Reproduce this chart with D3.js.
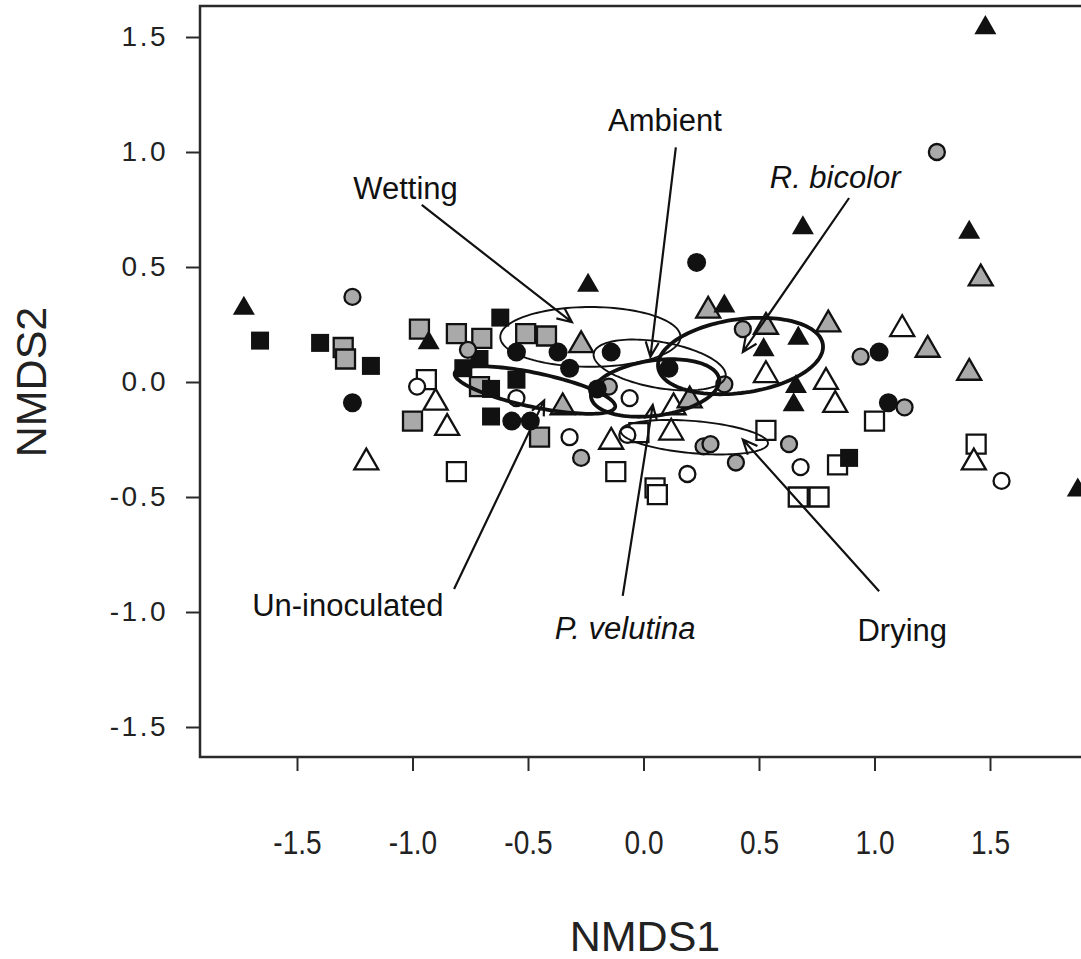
<!DOCTYPE html>
<html>
<head>
<meta charset="utf-8">
<script src="https://cdn.jsdelivr.net/npm/d3@7"></script>
<style>
  html, body { margin: 0; padding: 0; background: #fff; overflow: hidden; }
  svg { display: block; font-family: "Liberation Sans", Arial, sans-serif; }
</style>
</head>
<body>
<svg id="chart" width="1081" height="959"></svg>
<script>
// NMDS site scores [NMDS1, NMDS2].
// Marker shape = inoculum (square: un-inoculated, circle: P. velutina, triangle: R. bicolor)
// Marker fill  = moisture regime (black: ambient, grey: wetting, open: drying)
const unAmbient = [[-1.66,0.18],[-1.40,0.17],[-1.18,0.07],[-0.62,0.28],[-0.71,0.10],[-0.78,0.06],[-0.55,0.01],[-0.66,-0.03],[-0.66,-0.15],[0.89,-0.33]];
const unWetting = [[-1.30,0.15],[-1.29,0.10],[-0.97,0.23],[-0.81,0.21],[-0.70,0.19],[-0.51,0.21],[-0.42,0.20],[-1.00,-0.17],[-0.45,-0.24],[-0.71,-0.02]];
const unDrying  = [[-0.94,0.01],[-0.81,-0.39],[-0.12,-0.39],[-0.02,-0.22],[0.05,-0.46],[0.06,-0.49],[0.53,-0.21],[0.84,-0.36],[0.67,-0.50],[0.76,-0.50],[1.00,-0.17],[1.44,-0.27]];

const pvAmbient = [[-1.26,-0.09],[-0.55,0.13],[-0.37,0.13],[-0.14,0.13],[-0.32,0.06],[-0.20,-0.03],[-0.57,-0.17],[-0.49,-0.17],[0.11,0.06],[0.23,0.52],[1.02,0.13],[1.06,-0.09]];
const pvWetting = [[-1.26,0.37],[-0.76,0.14],[-0.15,-0.02],[-0.27,-0.33],[0.43,0.23],[0.35,-0.01],[0.26,-0.28],[0.29,-0.27],[0.40,-0.35],[0.63,-0.27],[0.94,0.11],[1.13,-0.11],[1.27,1.00]];
const pvDrying  = [[-0.98,-0.02],[-0.55,-0.07],[-0.32,-0.24],[-0.06,-0.07],[-0.07,-0.23],[0.19,-0.40],[0.68,-0.37],[1.55,-0.43]];

const rbAmbient = [[-1.73,0.32],[-0.93,0.17],[-0.24,0.42],[1.48,1.54],[0.69,0.67],[1.41,0.65],[0.35,0.33],[0.52,0.14],[0.67,0.19],[0.66,-0.02],[0.65,-0.10],[1.88,-0.47]];
const rbWetting = [[-0.27,0.16],[-0.35,-0.11],[0.28,0.31],[0.53,0.24],[0.80,0.25],[0.20,-0.08],[1.46,0.45],[1.23,0.14],[1.41,0.04]];
const rbDrying  = [[-1.20,-0.35],[-0.90,-0.09],[-0.85,-0.20],[-0.14,-0.26],[0.12,-0.22],[0.13,-0.11],[0.53,0.03],[0.79,0.00],[0.83,-0.10],[1.12,0.23],[1.43,-0.35]];

// Group ellipses: centre, semi-axes (NMDS units) and rotation (degrees)
const ellipseNames  = ["Un-inoculated", "P. velutina", "R. bicolor", "Wetting", "Ambient", "Drying"];
const ellipseCentre = [[-0.47,-0.035],[0.05,-0.026],[0.42,0.113],[-0.23,0.196],[0.07,0.074],[0.22,-0.24]];
const ellipseAxes   = [[0.355,0.074],[0.28,0.12],[0.36,0.16],[0.39,0.13],[0.29,0.10],[0.32,0.07]];
const ellipseAngle  = [-12, 8, 8, 0, -10, -5];

// Annotation labels and their leader arrows (NMDS units)
const labelText = ["Ambient", "Wetting", "R. bicolor", "Un-inoculated", "P. velutina", "Drying"];
const labelAt   = [[0.093,1.135],[-1.03,0.84],[0.83,0.89],[-1.28,-0.97],[-0.08,-1.07],[1.12,-1.08]];
const arrowFrom = [[0.14,1.02],[-0.96,0.77],[0.89,0.80],[-0.82,-0.90],[-0.09,-0.93],[1.02,-0.91]];
const arrowTo   = [[0.03,0.11],[-0.31,0.26],[0.43,0.13],[-0.43,-0.08],[0.04,-0.10],[0.43,-0.25]];

const xTicks = [-1.5, -1.0, -0.5, 0.0, 0.5, 1.0, 1.5];
const yTicks = [-1.5, -1.0, -0.5, 0.0, 0.5, 1.0, 1.5];

// ---- layout ----
const svg = d3.select("#chart");
const frame = { left: 200, top: 6, right: 1110, bottom: 757 };
const x = d3.scaleLinear().domain([-1.5, 1.5]).range([297, 990]);
const y = d3.scaleLinear().domain([-1.5, 1.5]).range([727, 37]);

const INK = "#111";
const GREY = "#a9a9a9";

// points
const symbolType = { square: d3.symbolSquare, circle: d3.symbolCircle, triangle: d3.symbolTriangle };
const solidSize  = { square: 18 * 18, circle: Math.PI * 9.5 * 9.5, triangle: 0.433 * 22 * 22 };
const ringSize   = { square: 19 * 19, circle: Math.PI * 8 * 8, triangle: 0.433 * 24 * 24 };

const groups = [
  { pts: unDrying,  shape: "square",   fill: "open"  },
  { pts: unWetting, shape: "square",   fill: "grey"  },
  { pts: unAmbient, shape: "square",   fill: "black" },
  { pts: pvDrying,  shape: "circle",   fill: "open"  },
  { pts: pvWetting, shape: "circle",   fill: "grey"  },
  { pts: pvAmbient, shape: "circle",   fill: "black" },
  { pts: rbDrying,  shape: "triangle", fill: "open"  },
  { pts: rbWetting, shape: "triangle", fill: "grey"  },
  { pts: rbAmbient, shape: "triangle", fill: "black" }
];

const plot = svg.append("g");
plot.append("defs").append("clipPath").attr("id", "clip")
  .append("rect").attr("x", frame.left).attr("y", frame.top)
  .attr("width", frame.right - frame.left).attr("height", frame.bottom - frame.top);

const inner = plot.append("g").attr("clip-path", "url(#clip)");

groups.forEach(g => {
  const solid = g.fill === "black";
  const sym = d3.symbol().type(symbolType[g.shape]).size(solid ? solidSize[g.shape] : ringSize[g.shape]);
  inner.append("g").selectAll("path").data(g.pts).join("path")
    .attr("d", sym)
    .attr("transform", d => `translate(${x(d[0])},${y(d[1])})`)
    .attr("fill", solid ? INK : (g.fill === "grey" ? GREY : "#fff"))
    .attr("stroke", solid ? "none" : INK)
    .attr("stroke-width", 2.3);
});

// ellipses
const thick = new Set(["Un-inoculated", "P. velutina", "R. bicolor"]);
const line = d3.line().curve(d3.curveLinearClosed);
ellipseNames.forEach((name, i) => {
  const [cx, cy] = ellipseCentre[i];
  const [a, b] = ellipseAxes[i];
  const t = ellipseAngle[i] * Math.PI / 180;
  const pts = d3.range(0, 360, 3).map(deg => {
    const p = deg * Math.PI / 180;
    const ex = a * Math.cos(p), ey = b * Math.sin(p);
    return [x(cx + ex * Math.cos(t) - ey * Math.sin(t)), y(cy + ex * Math.sin(t) + ey * Math.cos(t))];
  });
  inner.append("path").attr("d", line(pts))
    .attr("fill", "none").attr("stroke", INK)
    .attr("stroke-width", thick.has(name) ? 3.8 : 1.9);
});

// frame
plot.append("rect")
  .attr("x", frame.left).attr("y", frame.top)
  .attr("width", frame.right - frame.left).attr("height", frame.bottom - frame.top)
  .attr("fill", "none").attr("stroke", "#2a2a2a").attr("stroke-width", 2.5);

// axes
const fmt = d => d.toFixed(1);
const yAxis = svg.append("g").attr("transform", `translate(${frame.left},0)`)
  .call(d3.axisLeft(y).tickValues(yTicks).tickSize(14).tickPadding(18).tickFormat(fmt));
yAxis.select(".domain").remove();
yAxis.selectAll(".tick line").attr("stroke", "#2a2a2a").attr("stroke-width", 2);
yAxis.selectAll(".tick text")
  .attr("font-family", "Liberation Sans, Arial, sans-serif")
  .attr("font-size", 28).attr("letter-spacing", 2.5).attr("fill", "#222");

const xAxis = svg.append("g").attr("transform", `translate(0,${frame.bottom})`)
  .call(d3.axisBottom(x).tickValues(xTicks).tickSize(14).tickPadding(60).tickFormat(fmt));
xAxis.select(".domain").remove();
xAxis.selectAll(".tick line").attr("stroke", "#2a2a2a").attr("stroke-width", 2);
xAxis.selectAll(".tick text")
  .attr("font-family", "Liberation Sans, Arial, sans-serif")
  .attr("font-size", 33).attr("fill", "#222")
  .attr("transform", "scale(0.85,1)");

svg.append("text").text("NMDS1")
  .attr("x", 645).attr("y", 951).attr("text-anchor", "middle")
  .attr("font-size", 43).attr("fill", "#222");
svg.append("text").text("NMDS2")
  .attr("transform", "translate(46,382) rotate(-90)").attr("text-anchor", "middle")
  .attr("font-size", 43).attr("fill", "#222");

// annotations
const italic = new Set(["R. bicolor", "P. velutina"]);
const ann = svg.append("g");
labelText.forEach((txt, i) => {
  ann.append("text").text(txt)
    .attr("x", x(labelAt[i][0])).attr("y", y(labelAt[i][1]))
    .attr("text-anchor", "middle").attr("dominant-baseline", "central")
    .attr("font-size", 31).attr("font-style", italic.has(txt) ? "italic" : "normal")
    .attr("fill", "#111");
  const x0 = x(arrowFrom[i][0]), y0 = y(arrowFrom[i][1]);
  const x1 = x(arrowTo[i][0]), y1 = y(arrowTo[i][1]);
  const ang = Math.atan2(y1 - y0, x1 - x0);
  const len = 16, spread = 0.42;
  const h1 = [x1 - len * Math.cos(ang - spread), y1 - len * Math.sin(ang - spread)];
  const h2 = [x1 - len * Math.cos(ang + spread), y1 - len * Math.sin(ang + spread)];
  ann.append("path")
    .attr("d", `M${x0},${y0}L${x1},${y1}M${h1[0]},${h1[1]}L${x1},${y1}L${h2[0]},${h2[1]}`)
    .attr("fill", "none").attr("stroke", "#111").attr("stroke-width", 2.2);
});
</script>
</body>
</html>
